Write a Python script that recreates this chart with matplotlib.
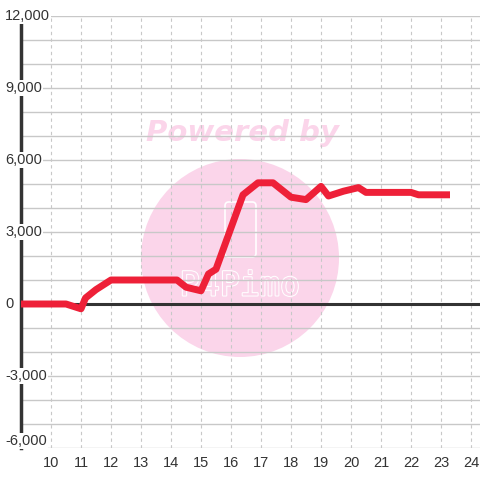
import matplotlib
matplotlib.use("Agg")
import matplotlib.pyplot as plt
from matplotlib.patches import Circle, FancyBboxPatch
import matplotlib.patheffects as pe

plt.rcParams['font.family'] = ['Liberation Sans', 'DejaVu Sans']

# hour of day vs cumulative value
hours = [9, 10.5, 11, 11.15, 11.5, 12, 14.2, 14.5, 15, 15.25, 15.5, 16.4, 16.9, 17.4,
         18, 18.5, 19, 19.25, 19.75, 20.25, 20.5, 21, 22, 22.25, 23.3]
values = [0, 0, -200, 250, 600, 1000, 1000, 700, 550, 1250, 1450, 4550, 5050, 5050,
          4450, 4350, 4900, 4500, 4700, 4850, 4650, 4650, 4650, 4550, 4550]
x_ticks = list(range(10, 25))
y_ticks = [-6000, -3000, 0, 3000, 6000, 9000, 12000]

W = 480.0
fig = plt.figure(figsize=(4.8, 4.8), dpi=100)
ax = fig.add_axes([21 / W, 32 / W, 459 / W, 432 / W])
ax.set_facecolor("none")
ax.set_zorder(1)

# watermark in the background
pink = "#fbd5ea"
fig.patches.append(Circle((240 / W, 1 - 258 / W), 99 / W, transform=fig.transFigure,
                          facecolor=pink, edgecolor="none", zorder=-3))
fig.patches.append(FancyBboxPatch((225 / W, 1 - 257 / W), 31 / W, 55 / W,
                                  boxstyle="round,pad=0,rounding_size=0.008",
                                  transform=fig.transFigure, facecolor="none",
                                  edgecolor="white", linewidth=1.2, zorder=-2))
fig.text(240 / W, 1 - 286 / W, "P4Pimo", family="DejaVu Sans Mono", fontsize=24,
         color=pink, ha="center", va="center", zorder=-2,
         path_effects=[pe.withStroke(linewidth=1.5, foreground="white")])
fig.text(242 / W, 1 - 133 / W, "Powered by", family="DejaVu Sans", fontsize=21,
         fontweight="bold", style="italic", color=pink, ha="center", va="center",
         zorder=-2)

ax.set_xlim(9, 24.3)
ax.set_ylim(-6000, 12000)
ax.set_yticks(range(-6000, 12001, 1000), minor=True)
ax.set_yticks(y_ticks)
ax.set_xticks(x_ticks)
ax.set_yticklabels([])
ax.set_axisbelow(True)
ax.grid(axis="y", which="both", color="#c8c8c8", linewidth=1)
ax.grid(axis="x", which="major", color="#c8c8c8", linewidth=0.8, linestyle=(0, (3, 3)))

for s in ["top", "right", "bottom"]:
    ax.spines[s].set_visible(False)
ax.spines["left"].set_color("#333333")
ax.spines["left"].set_linewidth(2.5)
ax.spines["left"].set_zorder(1)
ax.axhline(0, color="#333333", linewidth=2.2, zorder=1.5)

ax.tick_params(axis="both", which="both", length=0, labelsize=10.5, labelcolor="#333333")
ax.tick_params(axis="x", pad=6)

# y labels sit over the axis line, with a white box behind them
for v in y_ticks:
    ax.text(-16 / 459, v, f"{v:,}", transform=ax.get_yaxis_transform(),
            ha="left", va="bottom" if v == y_ticks[0] else "center",
            fontsize=10.5, color="#333333", zorder=3, clip_on=False,
            bbox=dict(facecolor="white", edgecolor="none", pad=1))

ax.plot(hours, values, color="#ee2038", linewidth=5, solid_capstyle="butt",
        zorder=2, clip_on=False)

fig.savefig("out.png", dpi=100)
